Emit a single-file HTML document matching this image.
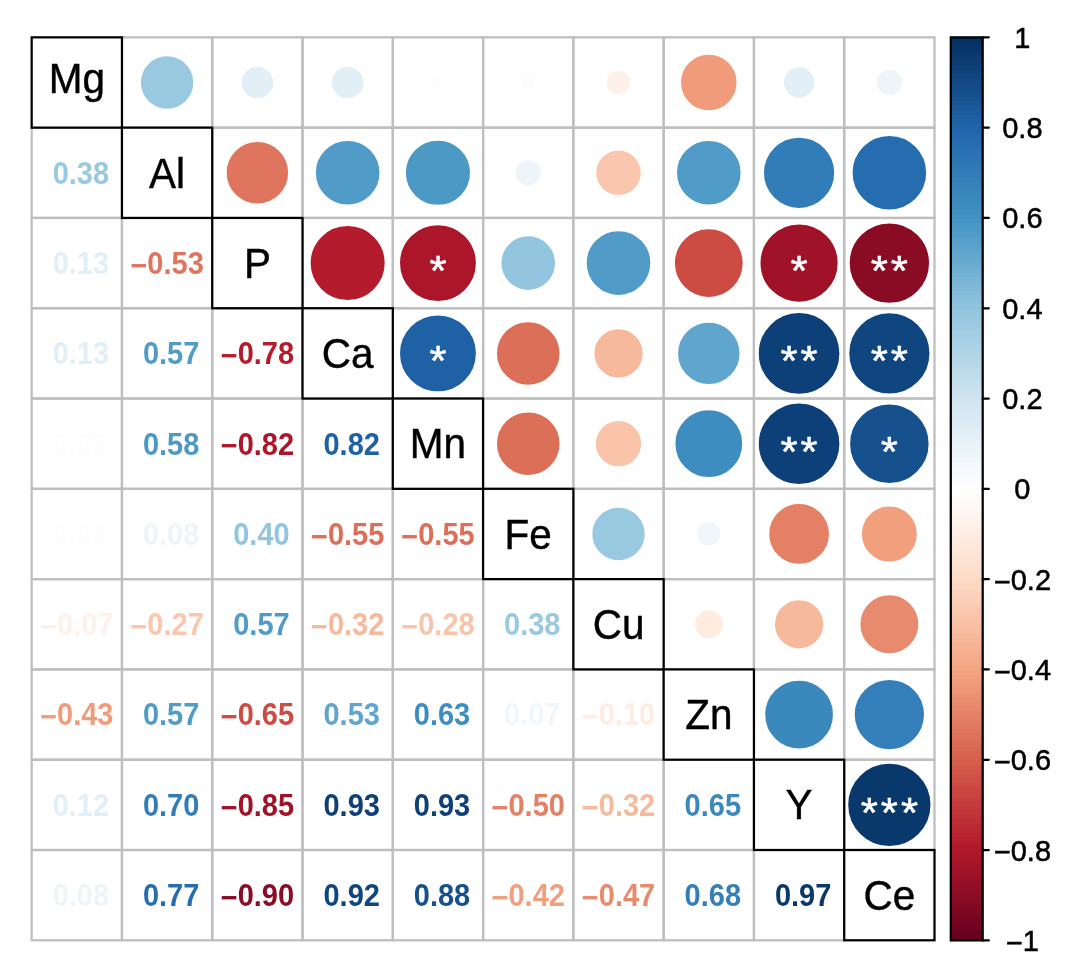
<!DOCTYPE html>
<html lang="en"><head><meta charset="utf-8"><title>Correlation plot</title>
<style>html,body{margin:0;padding:0;background:#fff}svg{display:block}</style></head>
<body>
<svg width="1065" height="962" viewBox="0 0 1065 962">
<rect width="1065" height="962" fill="#fff"/>
<g fill="none" stroke="#BEBEBE" stroke-width="2.25">
<rect x="121.95" y="37.35" width="90.28" height="90.29"/>
<rect x="212.24" y="37.35" width="90.28" height="90.29"/>
<rect x="302.52" y="37.35" width="90.28" height="90.29"/>
<rect x="392.80" y="37.35" width="90.28" height="90.29"/>
<rect x="483.09" y="37.35" width="90.28" height="90.29"/>
<rect x="573.37" y="37.35" width="90.28" height="90.29"/>
<rect x="663.65" y="37.35" width="90.28" height="90.29"/>
<rect x="753.93" y="37.35" width="90.28" height="90.29"/>
<rect x="844.22" y="37.35" width="90.28" height="90.29"/>
<rect x="31.67" y="127.64" width="90.28" height="90.29"/>
<rect x="212.24" y="127.64" width="90.28" height="90.29"/>
<rect x="302.52" y="127.64" width="90.28" height="90.29"/>
<rect x="392.80" y="127.64" width="90.28" height="90.29"/>
<rect x="483.09" y="127.64" width="90.28" height="90.29"/>
<rect x="573.37" y="127.64" width="90.28" height="90.29"/>
<rect x="663.65" y="127.64" width="90.28" height="90.29"/>
<rect x="753.93" y="127.64" width="90.28" height="90.29"/>
<rect x="844.22" y="127.64" width="90.28" height="90.29"/>
<rect x="31.67" y="217.94" width="90.28" height="90.29"/>
<rect x="121.95" y="217.94" width="90.28" height="90.29"/>
<rect x="302.52" y="217.94" width="90.28" height="90.29"/>
<rect x="392.80" y="217.94" width="90.28" height="90.29"/>
<rect x="483.09" y="217.94" width="90.28" height="90.29"/>
<rect x="573.37" y="217.94" width="90.28" height="90.29"/>
<rect x="663.65" y="217.94" width="90.28" height="90.29"/>
<rect x="753.93" y="217.94" width="90.28" height="90.29"/>
<rect x="844.22" y="217.94" width="90.28" height="90.29"/>
<rect x="31.67" y="308.24" width="90.28" height="90.29"/>
<rect x="121.95" y="308.24" width="90.28" height="90.29"/>
<rect x="212.24" y="308.24" width="90.28" height="90.29"/>
<rect x="392.80" y="308.24" width="90.28" height="90.29"/>
<rect x="483.09" y="308.24" width="90.28" height="90.29"/>
<rect x="573.37" y="308.24" width="90.28" height="90.29"/>
<rect x="663.65" y="308.24" width="90.28" height="90.29"/>
<rect x="753.93" y="308.24" width="90.28" height="90.29"/>
<rect x="844.22" y="308.24" width="90.28" height="90.29"/>
<rect x="31.67" y="398.53" width="90.28" height="90.29"/>
<rect x="121.95" y="398.53" width="90.28" height="90.29"/>
<rect x="212.24" y="398.53" width="90.28" height="90.29"/>
<rect x="302.52" y="398.53" width="90.28" height="90.29"/>
<rect x="483.09" y="398.53" width="90.28" height="90.29"/>
<rect x="573.37" y="398.53" width="90.28" height="90.29"/>
<rect x="663.65" y="398.53" width="90.28" height="90.29"/>
<rect x="753.93" y="398.53" width="90.28" height="90.29"/>
<rect x="844.22" y="398.53" width="90.28" height="90.29"/>
<rect x="31.67" y="488.82" width="90.28" height="90.29"/>
<rect x="121.95" y="488.82" width="90.28" height="90.29"/>
<rect x="212.24" y="488.82" width="90.28" height="90.29"/>
<rect x="302.52" y="488.82" width="90.28" height="90.29"/>
<rect x="392.80" y="488.82" width="90.28" height="90.29"/>
<rect x="573.37" y="488.82" width="90.28" height="90.29"/>
<rect x="663.65" y="488.82" width="90.28" height="90.29"/>
<rect x="753.93" y="488.82" width="90.28" height="90.29"/>
<rect x="844.22" y="488.82" width="90.28" height="90.29"/>
<rect x="31.67" y="579.12" width="90.28" height="90.29"/>
<rect x="121.95" y="579.12" width="90.28" height="90.29"/>
<rect x="212.24" y="579.12" width="90.28" height="90.29"/>
<rect x="302.52" y="579.12" width="90.28" height="90.29"/>
<rect x="392.80" y="579.12" width="90.28" height="90.29"/>
<rect x="483.09" y="579.12" width="90.28" height="90.29"/>
<rect x="663.65" y="579.12" width="90.28" height="90.29"/>
<rect x="753.93" y="579.12" width="90.28" height="90.29"/>
<rect x="844.22" y="579.12" width="90.28" height="90.29"/>
<rect x="31.67" y="669.41" width="90.28" height="90.29"/>
<rect x="121.95" y="669.41" width="90.28" height="90.29"/>
<rect x="212.24" y="669.41" width="90.28" height="90.29"/>
<rect x="302.52" y="669.41" width="90.28" height="90.29"/>
<rect x="392.80" y="669.41" width="90.28" height="90.29"/>
<rect x="483.09" y="669.41" width="90.28" height="90.29"/>
<rect x="573.37" y="669.41" width="90.28" height="90.29"/>
<rect x="753.93" y="669.41" width="90.28" height="90.29"/>
<rect x="844.22" y="669.41" width="90.28" height="90.29"/>
<rect x="31.67" y="759.71" width="90.28" height="90.29"/>
<rect x="121.95" y="759.71" width="90.28" height="90.29"/>
<rect x="212.24" y="759.71" width="90.28" height="90.29"/>
<rect x="302.52" y="759.71" width="90.28" height="90.29"/>
<rect x="392.80" y="759.71" width="90.28" height="90.29"/>
<rect x="483.09" y="759.71" width="90.28" height="90.29"/>
<rect x="573.37" y="759.71" width="90.28" height="90.29"/>
<rect x="663.65" y="759.71" width="90.28" height="90.29"/>
<rect x="844.22" y="759.71" width="90.28" height="90.29"/>
<rect x="31.67" y="850.00" width="90.28" height="90.29"/>
<rect x="121.95" y="850.00" width="90.28" height="90.29"/>
<rect x="212.24" y="850.00" width="90.28" height="90.29"/>
<rect x="302.52" y="850.00" width="90.28" height="90.29"/>
<rect x="392.80" y="850.00" width="90.28" height="90.29"/>
<rect x="483.09" y="850.00" width="90.28" height="90.29"/>
<rect x="573.37" y="850.00" width="90.28" height="90.29"/>
<rect x="663.65" y="850.00" width="90.28" height="90.29"/>
<rect x="753.93" y="850.00" width="90.28" height="90.29"/>
</g>
<circle cx="167.09" cy="82.50" r="25.04" fill="#99C9E0" stroke="#99C9E0" stroke-width="2.25"/>
<circle cx="257.38" cy="82.50" r="14.65" fill="#E2EFF6" stroke="#E2EFF6" stroke-width="2.25"/>
<circle cx="347.66" cy="82.50" r="14.65" fill="#E2EFF6" stroke="#E2EFF6" stroke-width="2.25"/>
<circle cx="437.94" cy="82.50" r="5.75" fill="#FCFDFE" stroke="#FCFDFE" stroke-width="2.25"/>
<circle cx="528.23" cy="82.50" r="5.75" fill="#FCFDFE" stroke="#FCFDFE" stroke-width="2.25"/>
<circle cx="618.51" cy="82.50" r="10.75" fill="#FEF1EA" stroke="#FEF1EA" stroke-width="2.25"/>
<circle cx="708.79" cy="82.50" r="26.64" fill="#F09C7B" stroke="#F09C7B" stroke-width="2.25"/>
<circle cx="799.08" cy="82.50" r="14.07" fill="#E2EFF6" stroke="#E2EFF6" stroke-width="2.25"/>
<circle cx="889.36" cy="82.50" r="11.49" fill="#EEF5F9" stroke="#EEF5F9" stroke-width="2.25"/>
<circle cx="257.38" cy="172.79" r="29.58" fill="#DF755E" stroke="#DF755E" stroke-width="2.25"/>
<circle cx="347.66" cy="172.79" r="30.67" fill="#509BC7" stroke="#509BC7" stroke-width="2.25"/>
<circle cx="437.94" cy="172.79" r="30.94" fill="#4C99C6" stroke="#4C99C6" stroke-width="2.25"/>
<circle cx="528.23" cy="172.79" r="11.49" fill="#EEF5F9" stroke="#EEF5F9" stroke-width="2.25"/>
<circle cx="618.51" cy="172.79" r="21.11" fill="#FAC6AD" stroke="#FAC6AD" stroke-width="2.25"/>
<circle cx="708.79" cy="172.79" r="30.67" fill="#509BC7" stroke="#509BC7" stroke-width="2.25"/>
<circle cx="799.08" cy="172.79" r="33.99" fill="#327DB8" stroke="#327DB8" stroke-width="2.25"/>
<circle cx="889.36" cy="172.79" r="35.65" fill="#266DB0" stroke="#266DB0" stroke-width="2.25"/>
<circle cx="347.66" cy="263.09" r="35.88" fill="#B41C2D" stroke="#B41C2D" stroke-width="2.25"/>
<circle cx="437.94" cy="263.09" r="36.79" fill="#AB162A" stroke="#AB162A" stroke-width="2.25"/>
<circle cx="528.23" cy="263.09" r="25.69" fill="#93C5DE" stroke="#93C5DE" stroke-width="2.25"/>
<circle cx="618.51" cy="263.09" r="30.67" fill="#509BC7" stroke="#509BC7" stroke-width="2.25"/>
<circle cx="708.79" cy="263.09" r="32.75" fill="#CC4B43" stroke="#CC4B43" stroke-width="2.25"/>
<circle cx="799.08" cy="263.09" r="37.46" fill="#A01228" stroke="#A01228" stroke-width="2.25"/>
<circle cx="889.36" cy="263.09" r="38.54" fill="#890B24" stroke="#890B24" stroke-width="2.25"/>
<circle cx="437.94" cy="353.38" r="36.79" fill="#1E61A5" stroke="#1E61A5" stroke-width="2.25"/>
<circle cx="528.23" cy="353.38" r="30.13" fill="#DC6F58" stroke="#DC6F58" stroke-width="2.25"/>
<circle cx="618.51" cy="353.38" r="22.98" fill="#F7B99B" stroke="#F7B99B" stroke-width="2.25"/>
<circle cx="708.79" cy="353.38" r="29.58" fill="#60A5CD" stroke="#60A5CD" stroke-width="2.25"/>
<circle cx="799.08" cy="353.38" r="39.18" fill="#0D4078" stroke="#0D4078" stroke-width="2.25"/>
<circle cx="889.36" cy="353.38" r="38.97" fill="#10467F" stroke="#10467F" stroke-width="2.25"/>
<circle cx="528.23" cy="443.68" r="30.13" fill="#DC6F58" stroke="#DC6F58" stroke-width="2.25"/>
<circle cx="618.51" cy="443.68" r="21.50" fill="#F9C4A9" stroke="#F9C4A9" stroke-width="2.25"/>
<circle cx="708.79" cy="443.68" r="32.25" fill="#3E8DC0" stroke="#3E8DC0" stroke-width="2.25"/>
<circle cx="799.08" cy="443.68" r="39.18" fill="#0D4078" stroke="#0D4078" stroke-width="2.25"/>
<circle cx="889.36" cy="443.68" r="38.11" fill="#16518E" stroke="#16518E" stroke-width="2.25"/>
<circle cx="618.51" cy="533.97" r="25.04" fill="#99C9E0" stroke="#99C9E0" stroke-width="2.25"/>
<circle cx="708.79" cy="533.97" r="10.75" fill="#F0F7FA" stroke="#F0F7FA" stroke-width="2.25"/>
<circle cx="799.08" cy="533.97" r="28.73" fill="#E48066" stroke="#E48066" stroke-width="2.25"/>
<circle cx="889.36" cy="533.97" r="26.33" fill="#F19F7D" stroke="#F19F7D" stroke-width="2.25"/>
<circle cx="708.79" cy="624.27" r="12.85" fill="#FEECE1" stroke="#FEECE1" stroke-width="2.25"/>
<circle cx="799.08" cy="624.27" r="22.98" fill="#F7B99B" stroke="#F7B99B" stroke-width="2.25"/>
<circle cx="889.36" cy="624.27" r="27.85" fill="#E88A6D" stroke="#E88A6D" stroke-width="2.25"/>
<circle cx="799.08" cy="714.56" r="32.75" fill="#3B88BD" stroke="#3B88BD" stroke-width="2.25"/>
<circle cx="889.36" cy="714.56" r="33.50" fill="#347FB9" stroke="#347FB9" stroke-width="2.25"/>
<circle cx="889.36" cy="804.86" r="40.01" fill="#09386C" stroke="#09386C" stroke-width="2.25"/>
<g font-family="'Liberation Sans', Arial, Helvetica, sans-serif" font-size="44.0" fill="#fff" stroke="#fff" stroke-width="0.55" text-anchor="middle">
<text transform="translate(437.94 285.09) scale(1 0.95)">*</text>
<text transform="translate(799.08 285.09) scale(1 0.95)">*</text>
<text transform="translate(879.31 285.09) scale(1 0.95)">*</text>
<text transform="translate(899.41 285.09) scale(1 0.95)">*</text>
<text transform="translate(437.94 375.38) scale(1 0.95)">*</text>
<text transform="translate(789.03 375.38) scale(1 0.95)">*</text>
<text transform="translate(809.13 375.38) scale(1 0.95)">*</text>
<text transform="translate(879.31 375.38) scale(1 0.95)">*</text>
<text transform="translate(899.41 375.38) scale(1 0.95)">*</text>
<text transform="translate(789.03 465.68) scale(1 0.95)">*</text>
<text transform="translate(809.13 465.68) scale(1 0.95)">*</text>
<text transform="translate(889.36 465.68) scale(1 0.95)">*</text>
<text transform="translate(869.26 826.86) scale(1 0.95)">*</text>
<text transform="translate(889.36 826.86) scale(1 0.95)">*</text>
<text transform="translate(909.46 826.86) scale(1 0.95)">*</text>
</g>
<g font-family="'Liberation Sans', Arial, Helvetica, sans-serif" font-size="29.0" font-weight="bold" text-anchor="middle">
<text transform="translate(80.84 183.69) scale(1 1.05)" fill="#99C9E0">0.38</text>
<text transform="translate(80.84 273.99) scale(1 1.05)" fill="#E2EFF6">0.13</text>
<text transform="translate(167.09 273.99) scale(1 1.05)" fill="#DF755E"><tspan dy="1.8">−</tspan><tspan dy="-1.8">0.53</tspan></text>
<text transform="translate(80.84 364.28) scale(1 1.05)" fill="#E2EFF6">0.13</text>
<text transform="translate(171.13 364.28) scale(1 1.05)" fill="#509BC7">0.57</text>
<text transform="translate(257.38 364.28) scale(1 1.05)" fill="#B41C2D"><tspan dy="1.8">−</tspan><tspan dy="-1.8">0.78</tspan></text>
<text transform="translate(80.84 454.58) scale(1 1.05)" fill="#FCFDFE">0.02</text>
<text transform="translate(171.13 454.58) scale(1 1.05)" fill="#4C99C6">0.58</text>
<text transform="translate(257.38 454.58) scale(1 1.05)" fill="#AB162A"><tspan dy="1.8">−</tspan><tspan dy="-1.8">0.82</tspan></text>
<text transform="translate(351.69 454.58) scale(1 1.05)" fill="#1E61A5">0.82</text>
<text transform="translate(80.84 544.87) scale(1 1.05)" fill="#FCFDFE">0.02</text>
<text transform="translate(171.13 544.87) scale(1 1.05)" fill="#EEF5F9">0.08</text>
<text transform="translate(261.41 544.87) scale(1 1.05)" fill="#93C5DE">0.40</text>
<text transform="translate(347.66 544.87) scale(1 1.05)" fill="#DC6F58"><tspan dy="1.8">−</tspan><tspan dy="-1.8">0.55</tspan></text>
<text transform="translate(437.94 544.87) scale(1 1.05)" fill="#DC6F58"><tspan dy="1.8">−</tspan><tspan dy="-1.8">0.55</tspan></text>
<text transform="translate(76.81 635.17) scale(1 1.05)" fill="#FEF1EA"><tspan dy="1.8">−</tspan><tspan dy="-1.8">0.07</tspan></text>
<text transform="translate(167.09 635.17) scale(1 1.05)" fill="#FAC6AD"><tspan dy="1.8">−</tspan><tspan dy="-1.8">0.27</tspan></text>
<text transform="translate(261.41 635.17) scale(1 1.05)" fill="#509BC7">0.57</text>
<text transform="translate(347.66 635.17) scale(1 1.05)" fill="#F7B99B"><tspan dy="1.8">−</tspan><tspan dy="-1.8">0.32</tspan></text>
<text transform="translate(437.94 635.17) scale(1 1.05)" fill="#F9C4A9"><tspan dy="1.8">−</tspan><tspan dy="-1.8">0.28</tspan></text>
<text transform="translate(532.26 635.17) scale(1 1.05)" fill="#99C9E0">0.38</text>
<text transform="translate(76.81 725.46) scale(1 1.05)" fill="#F09C7B"><tspan dy="1.8">−</tspan><tspan dy="-1.8">0.43</tspan></text>
<text transform="translate(171.13 725.46) scale(1 1.05)" fill="#509BC7">0.57</text>
<text transform="translate(257.38 725.46) scale(1 1.05)" fill="#CC4B43"><tspan dy="1.8">−</tspan><tspan dy="-1.8">0.65</tspan></text>
<text transform="translate(351.69 725.46) scale(1 1.05)" fill="#60A5CD">0.53</text>
<text transform="translate(441.97 725.46) scale(1 1.05)" fill="#3E8DC0">0.63</text>
<text transform="translate(532.26 725.46) scale(1 1.05)" fill="#F0F7FA">0.07</text>
<text transform="translate(618.51 725.46) scale(1 1.05)" fill="#FEECE1"><tspan dy="1.8">−</tspan><tspan dy="-1.8">0.10</tspan></text>
<text transform="translate(80.84 815.76) scale(1 1.05)" fill="#E2EFF6">0.12</text>
<text transform="translate(171.13 815.76) scale(1 1.05)" fill="#327DB8">0.70</text>
<text transform="translate(257.38 815.76) scale(1 1.05)" fill="#A01228"><tspan dy="1.8">−</tspan><tspan dy="-1.8">0.85</tspan></text>
<text transform="translate(351.69 815.76) scale(1 1.05)" fill="#0D4078">0.93</text>
<text transform="translate(441.97 815.76) scale(1 1.05)" fill="#0D4078">0.93</text>
<text transform="translate(528.23 815.76) scale(1 1.05)" fill="#E48066"><tspan dy="1.8">−</tspan><tspan dy="-1.8">0.50</tspan></text>
<text transform="translate(618.51 815.76) scale(1 1.05)" fill="#F7B99B"><tspan dy="1.8">−</tspan><tspan dy="-1.8">0.32</tspan></text>
<text transform="translate(712.82 815.76) scale(1 1.05)" fill="#3B88BD">0.65</text>
<text transform="translate(80.84 906.05) scale(1 1.05)" fill="#EEF5F9">0.08</text>
<text transform="translate(171.13 906.05) scale(1 1.05)" fill="#266DB0">0.77</text>
<text transform="translate(257.38 906.05) scale(1 1.05)" fill="#890B24"><tspan dy="1.8">−</tspan><tspan dy="-1.8">0.90</tspan></text>
<text transform="translate(351.69 906.05) scale(1 1.05)" fill="#10467F">0.92</text>
<text transform="translate(441.97 906.05) scale(1 1.05)" fill="#16518E">0.88</text>
<text transform="translate(528.23 906.05) scale(1 1.05)" fill="#F19F7D"><tspan dy="1.8">−</tspan><tspan dy="-1.8">0.42</tspan></text>
<text transform="translate(618.51 906.05) scale(1 1.05)" fill="#E88A6D"><tspan dy="1.8">−</tspan><tspan dy="-1.8">0.47</tspan></text>
<text transform="translate(712.82 906.05) scale(1 1.05)" fill="#347FB9">0.68</text>
<text transform="translate(803.11 906.05) scale(1 1.05)" fill="#09386C">0.97</text>
</g>
<g fill="#fff" stroke="#000" stroke-width="2.25">
<rect x="31.67" y="37.35" width="90.28" height="90.29"/>
<rect x="121.95" y="127.64" width="90.28" height="90.29"/>
<rect x="212.24" y="217.94" width="90.28" height="90.29"/>
<rect x="302.52" y="308.24" width="90.28" height="90.29"/>
<rect x="392.80" y="398.53" width="90.28" height="90.29"/>
<rect x="483.09" y="488.82" width="90.28" height="90.29"/>
<rect x="573.37" y="579.12" width="90.28" height="90.29"/>
<rect x="663.65" y="669.41" width="90.28" height="90.29"/>
<rect x="753.93" y="759.71" width="90.28" height="90.29"/>
<rect x="844.22" y="850.00" width="90.28" height="90.29"/>
</g>
<g font-family="'Liberation Sans', Arial, Helvetica, sans-serif" font-size="40.5" fill="#000" stroke="#000" stroke-width="0.4" text-anchor="middle">
<text transform="translate(76.81 92.76) scale(1 1.035)">Mg</text>
<text transform="translate(167.09 187.89) scale(1 1.035)">Al</text>
<text transform="translate(257.38 277.69) scale(1 1.035)">P</text>
<text transform="translate(347.66 367.98) scale(1 1.035)">Ca</text>
<text transform="translate(437.94 458.28) scale(1 1.035)">Mn</text>
<text transform="translate(528.23 548.57) scale(1 1.035)">Fe</text>
<text transform="translate(618.51 638.87) scale(1 1.035)">Cu</text>
<text transform="translate(708.79 729.16) scale(1 1.035)">Zn</text>
<text transform="translate(799.08 819.46) scale(1 1.035)">Y</text>
<text transform="translate(889.36 909.75) scale(1 1.035)">Ce</text>
</g>
<rect x="950.8" y="935.88" width="31.90" height="5.12" fill="#67001F" shape-rendering="crispEdges"/>
<rect x="950.8" y="931.37" width="31.90" height="5.12" fill="#6B0120" shape-rendering="crispEdges"/>
<rect x="950.8" y="926.85" width="31.90" height="5.12" fill="#6F0220" shape-rendering="crispEdges"/>
<rect x="950.8" y="922.34" width="31.90" height="5.12" fill="#720421" shape-rendering="crispEdges"/>
<rect x="950.8" y="917.82" width="31.90" height="5.12" fill="#760521" shape-rendering="crispEdges"/>
<rect x="950.8" y="913.31" width="31.90" height="5.12" fill="#7A0622" shape-rendering="crispEdges"/>
<rect x="950.8" y="908.79" width="31.90" height="5.12" fill="#7E0723" shape-rendering="crispEdges"/>
<rect x="950.8" y="904.28" width="31.90" height="5.12" fill="#810823" shape-rendering="crispEdges"/>
<rect x="950.8" y="899.76" width="31.90" height="5.12" fill="#850A24" shape-rendering="crispEdges"/>
<rect x="950.8" y="895.25" width="31.90" height="5.12" fill="#890B24" shape-rendering="crispEdges"/>
<rect x="950.8" y="890.73" width="31.90" height="5.12" fill="#8D0C25" shape-rendering="crispEdges"/>
<rect x="950.8" y="886.22" width="31.90" height="5.12" fill="#900D26" shape-rendering="crispEdges"/>
<rect x="950.8" y="881.70" width="31.90" height="5.12" fill="#940E26" shape-rendering="crispEdges"/>
<rect x="950.8" y="877.19" width="31.90" height="5.12" fill="#981027" shape-rendering="crispEdges"/>
<rect x="950.8" y="872.67" width="31.90" height="5.12" fill="#9C1127" shape-rendering="crispEdges"/>
<rect x="950.8" y="868.16" width="31.90" height="5.12" fill="#A01228" shape-rendering="crispEdges"/>
<rect x="950.8" y="863.64" width="31.90" height="5.12" fill="#A31329" shape-rendering="crispEdges"/>
<rect x="950.8" y="859.13" width="31.90" height="5.12" fill="#A71529" shape-rendering="crispEdges"/>
<rect x="950.8" y="854.61" width="31.90" height="5.12" fill="#AB162A" shape-rendering="crispEdges"/>
<rect x="950.8" y="850.10" width="31.90" height="5.12" fill="#AF172A" shape-rendering="crispEdges"/>
<rect x="950.8" y="845.58" width="31.90" height="5.12" fill="#B2182B" shape-rendering="crispEdges"/>
<rect x="950.8" y="841.06" width="31.90" height="5.12" fill="#B41C2D" shape-rendering="crispEdges"/>
<rect x="950.8" y="836.55" width="31.90" height="5.12" fill="#B6202F" shape-rendering="crispEdges"/>
<rect x="950.8" y="832.03" width="31.90" height="5.12" fill="#B82330" shape-rendering="crispEdges"/>
<rect x="950.8" y="827.52" width="31.90" height="5.12" fill="#B92732" shape-rendering="crispEdges"/>
<rect x="950.8" y="823.00" width="31.90" height="5.12" fill="#BB2A34" shape-rendering="crispEdges"/>
<rect x="950.8" y="818.49" width="31.90" height="5.12" fill="#BD2E35" shape-rendering="crispEdges"/>
<rect x="950.8" y="813.97" width="31.90" height="5.12" fill="#BF3237" shape-rendering="crispEdges"/>
<rect x="950.8" y="809.46" width="31.90" height="5.12" fill="#C13539" shape-rendering="crispEdges"/>
<rect x="950.8" y="804.94" width="31.90" height="5.12" fill="#C2393B" shape-rendering="crispEdges"/>
<rect x="950.8" y="800.43" width="31.90" height="5.12" fill="#C43D3C" shape-rendering="crispEdges"/>
<rect x="950.8" y="795.91" width="31.90" height="5.12" fill="#C6403E" shape-rendering="crispEdges"/>
<rect x="950.8" y="791.40" width="31.90" height="5.12" fill="#C84440" shape-rendering="crispEdges"/>
<rect x="950.8" y="786.88" width="31.90" height="5.12" fill="#CA4741" shape-rendering="crispEdges"/>
<rect x="950.8" y="782.37" width="31.90" height="5.12" fill="#CC4B43" shape-rendering="crispEdges"/>
<rect x="950.8" y="777.85" width="31.90" height="5.12" fill="#CD4F45" shape-rendering="crispEdges"/>
<rect x="950.8" y="773.34" width="31.90" height="5.12" fill="#CF5247" shape-rendering="crispEdges"/>
<rect x="950.8" y="768.82" width="31.90" height="5.12" fill="#D15648" shape-rendering="crispEdges"/>
<rect x="950.8" y="764.31" width="31.90" height="5.12" fill="#D3594A" shape-rendering="crispEdges"/>
<rect x="950.8" y="759.79" width="31.90" height="5.12" fill="#D55D4C" shape-rendering="crispEdges"/>
<rect x="950.8" y="755.27" width="31.90" height="5.12" fill="#D6614E" shape-rendering="crispEdges"/>
<rect x="950.8" y="750.76" width="31.90" height="5.12" fill="#D86450" shape-rendering="crispEdges"/>
<rect x="950.8" y="746.24" width="31.90" height="5.12" fill="#D96853" shape-rendering="crispEdges"/>
<rect x="950.8" y="741.73" width="31.90" height="5.12" fill="#DB6B56" shape-rendering="crispEdges"/>
<rect x="950.8" y="737.21" width="31.90" height="5.12" fill="#DC6F58" shape-rendering="crispEdges"/>
<rect x="950.8" y="732.70" width="31.90" height="5.12" fill="#DE725B" shape-rendering="crispEdges"/>
<rect x="950.8" y="728.18" width="31.90" height="5.12" fill="#DF755E" shape-rendering="crispEdges"/>
<rect x="950.8" y="723.67" width="31.90" height="5.12" fill="#E17960" shape-rendering="crispEdges"/>
<rect x="950.8" y="719.15" width="31.90" height="5.12" fill="#E27C63" shape-rendering="crispEdges"/>
<rect x="950.8" y="714.64" width="31.90" height="5.12" fill="#E48066" shape-rendering="crispEdges"/>
<rect x="950.8" y="710.12" width="31.90" height="5.12" fill="#E58368" shape-rendering="crispEdges"/>
<rect x="950.8" y="705.61" width="31.90" height="5.12" fill="#E7876B" shape-rendering="crispEdges"/>
<rect x="950.8" y="701.09" width="31.90" height="5.12" fill="#E88A6D" shape-rendering="crispEdges"/>
<rect x="950.8" y="696.58" width="31.90" height="5.12" fill="#EA8E70" shape-rendering="crispEdges"/>
<rect x="950.8" y="692.06" width="31.90" height="5.12" fill="#EB9173" shape-rendering="crispEdges"/>
<rect x="950.8" y="687.55" width="31.90" height="5.12" fill="#ED9575" shape-rendering="crispEdges"/>
<rect x="950.8" y="683.03" width="31.90" height="5.12" fill="#EE9878" shape-rendering="crispEdges"/>
<rect x="950.8" y="678.52" width="31.90" height="5.12" fill="#F09C7B" shape-rendering="crispEdges"/>
<rect x="950.8" y="674.00" width="31.90" height="5.12" fill="#F19F7D" shape-rendering="crispEdges"/>
<rect x="950.8" y="669.48" width="31.90" height="5.12" fill="#F3A380" shape-rendering="crispEdges"/>
<rect x="950.8" y="664.97" width="31.90" height="5.12" fill="#F4A683" shape-rendering="crispEdges"/>
<rect x="950.8" y="660.45" width="31.90" height="5.12" fill="#F5A987" shape-rendering="crispEdges"/>
<rect x="950.8" y="655.94" width="31.90" height="5.12" fill="#F5AB8A" shape-rendering="crispEdges"/>
<rect x="950.8" y="651.42" width="31.90" height="5.12" fill="#F5AE8D" shape-rendering="crispEdges"/>
<rect x="950.8" y="646.91" width="31.90" height="5.12" fill="#F6B191" shape-rendering="crispEdges"/>
<rect x="950.8" y="642.39" width="31.90" height="5.12" fill="#F6B394" shape-rendering="crispEdges"/>
<rect x="950.8" y="637.88" width="31.90" height="5.12" fill="#F7B698" shape-rendering="crispEdges"/>
<rect x="950.8" y="633.36" width="31.90" height="5.12" fill="#F7B99B" shape-rendering="crispEdges"/>
<rect x="950.8" y="628.85" width="31.90" height="5.12" fill="#F8BC9F" shape-rendering="crispEdges"/>
<rect x="950.8" y="624.33" width="31.90" height="5.12" fill="#F8BEA2" shape-rendering="crispEdges"/>
<rect x="950.8" y="619.82" width="31.90" height="5.12" fill="#F9C1A6" shape-rendering="crispEdges"/>
<rect x="950.8" y="615.30" width="31.90" height="5.12" fill="#F9C4A9" shape-rendering="crispEdges"/>
<rect x="950.8" y="610.79" width="31.90" height="5.12" fill="#FAC6AD" shape-rendering="crispEdges"/>
<rect x="950.8" y="606.27" width="31.90" height="5.12" fill="#FAC9B0" shape-rendering="crispEdges"/>
<rect x="950.8" y="601.76" width="31.90" height="5.12" fill="#FACCB4" shape-rendering="crispEdges"/>
<rect x="950.8" y="597.24" width="31.90" height="5.12" fill="#FBCFB7" shape-rendering="crispEdges"/>
<rect x="950.8" y="592.73" width="31.90" height="5.12" fill="#FBD1BB" shape-rendering="crispEdges"/>
<rect x="950.8" y="588.21" width="31.90" height="5.12" fill="#FCD4BE" shape-rendering="crispEdges"/>
<rect x="950.8" y="583.70" width="31.90" height="5.12" fill="#FCD7C1" shape-rendering="crispEdges"/>
<rect x="950.8" y="579.18" width="31.90" height="5.12" fill="#FDD9C5" shape-rendering="crispEdges"/>
<rect x="950.8" y="574.66" width="31.90" height="5.12" fill="#FDDCC8" shape-rendering="crispEdges"/>
<rect x="950.8" y="570.15" width="31.90" height="5.12" fill="#FDDECB" shape-rendering="crispEdges"/>
<rect x="950.8" y="565.63" width="31.90" height="5.12" fill="#FDDFCE" shape-rendering="crispEdges"/>
<rect x="950.8" y="561.12" width="31.90" height="5.12" fill="#FDE1D1" shape-rendering="crispEdges"/>
<rect x="950.8" y="556.60" width="31.90" height="5.12" fill="#FDE3D3" shape-rendering="crispEdges"/>
<rect x="950.8" y="552.09" width="31.90" height="5.12" fill="#FEE5D6" shape-rendering="crispEdges"/>
<rect x="950.8" y="547.57" width="31.90" height="5.12" fill="#FEE7D9" shape-rendering="crispEdges"/>
<rect x="950.8" y="543.06" width="31.90" height="5.12" fill="#FEE8DC" shape-rendering="crispEdges"/>
<rect x="950.8" y="538.54" width="31.90" height="5.12" fill="#FEEADF" shape-rendering="crispEdges"/>
<rect x="950.8" y="534.03" width="31.90" height="5.12" fill="#FEECE1" shape-rendering="crispEdges"/>
<rect x="950.8" y="529.51" width="31.90" height="5.12" fill="#FEEEE4" shape-rendering="crispEdges"/>
<rect x="950.8" y="525.00" width="31.90" height="5.12" fill="#FEF0E7" shape-rendering="crispEdges"/>
<rect x="950.8" y="520.48" width="31.90" height="5.12" fill="#FEF1EA" shape-rendering="crispEdges"/>
<rect x="950.8" y="515.97" width="31.90" height="5.12" fill="#FEF3ED" shape-rendering="crispEdges"/>
<rect x="950.8" y="511.45" width="31.90" height="5.12" fill="#FEF5F0" shape-rendering="crispEdges"/>
<rect x="950.8" y="506.94" width="31.90" height="5.12" fill="#FFF7F2" shape-rendering="crispEdges"/>
<rect x="950.8" y="502.42" width="31.90" height="5.12" fill="#FFF9F5" shape-rendering="crispEdges"/>
<rect x="950.8" y="497.91" width="31.90" height="5.12" fill="#FFFAF8" shape-rendering="crispEdges"/>
<rect x="950.8" y="493.39" width="31.90" height="5.12" fill="#FFFCFB" shape-rendering="crispEdges"/>
<rect x="950.8" y="488.88" width="31.90" height="5.12" fill="#FFFEFE" shape-rendering="crispEdges"/>
<rect x="950.8" y="484.36" width="31.90" height="5.12" fill="#FEFEFF" shape-rendering="crispEdges"/>
<rect x="950.8" y="479.84" width="31.90" height="5.12" fill="#FCFDFE" shape-rendering="crispEdges"/>
<rect x="950.8" y="475.33" width="31.90" height="5.12" fill="#F9FCFD" shape-rendering="crispEdges"/>
<rect x="950.8" y="470.81" width="31.90" height="5.12" fill="#F7FAFC" shape-rendering="crispEdges"/>
<rect x="950.8" y="466.30" width="31.90" height="5.12" fill="#F5F9FC" shape-rendering="crispEdges"/>
<rect x="950.8" y="461.78" width="31.90" height="5.12" fill="#F2F8FB" shape-rendering="crispEdges"/>
<rect x="950.8" y="457.27" width="31.90" height="5.12" fill="#F0F7FA" shape-rendering="crispEdges"/>
<rect x="950.8" y="452.75" width="31.90" height="5.12" fill="#EEF5F9" shape-rendering="crispEdges"/>
<rect x="950.8" y="448.24" width="31.90" height="5.12" fill="#EBF4F9" shape-rendering="crispEdges"/>
<rect x="950.8" y="443.72" width="31.90" height="5.12" fill="#E9F3F8" shape-rendering="crispEdges"/>
<rect x="950.8" y="439.21" width="31.90" height="5.12" fill="#E7F1F7" shape-rendering="crispEdges"/>
<rect x="950.8" y="434.69" width="31.90" height="5.12" fill="#E4F0F6" shape-rendering="crispEdges"/>
<rect x="950.8" y="430.18" width="31.90" height="5.12" fill="#E2EFF6" shape-rendering="crispEdges"/>
<rect x="950.8" y="425.66" width="31.90" height="5.12" fill="#E0EDF5" shape-rendering="crispEdges"/>
<rect x="950.8" y="421.15" width="31.90" height="5.12" fill="#DDECF4" shape-rendering="crispEdges"/>
<rect x="950.8" y="416.63" width="31.90" height="5.12" fill="#DBEBF3" shape-rendering="crispEdges"/>
<rect x="950.8" y="412.12" width="31.90" height="5.12" fill="#D9E9F3" shape-rendering="crispEdges"/>
<rect x="950.8" y="407.60" width="31.90" height="5.12" fill="#D7E8F2" shape-rendering="crispEdges"/>
<rect x="950.8" y="403.09" width="31.90" height="5.12" fill="#D4E7F1" shape-rendering="crispEdges"/>
<rect x="950.8" y="398.57" width="31.90" height="5.12" fill="#D2E6F0" shape-rendering="crispEdges"/>
<rect x="950.8" y="394.05" width="31.90" height="5.12" fill="#CFE4EF" shape-rendering="crispEdges"/>
<rect x="950.8" y="389.54" width="31.90" height="5.12" fill="#CCE2EF" shape-rendering="crispEdges"/>
<rect x="950.8" y="385.02" width="31.90" height="5.12" fill="#C9E1EE" shape-rendering="crispEdges"/>
<rect x="950.8" y="380.51" width="31.90" height="5.12" fill="#C6DFED" shape-rendering="crispEdges"/>
<rect x="950.8" y="375.99" width="31.90" height="5.12" fill="#C2DEEC" shape-rendering="crispEdges"/>
<rect x="950.8" y="371.48" width="31.90" height="5.12" fill="#BFDCEB" shape-rendering="crispEdges"/>
<rect x="950.8" y="366.96" width="31.90" height="5.12" fill="#BCDAEA" shape-rendering="crispEdges"/>
<rect x="950.8" y="362.45" width="31.90" height="5.12" fill="#B9D9E9" shape-rendering="crispEdges"/>
<rect x="950.8" y="357.93" width="31.90" height="5.12" fill="#B6D7E8" shape-rendering="crispEdges"/>
<rect x="950.8" y="353.42" width="31.90" height="5.12" fill="#B3D6E7" shape-rendering="crispEdges"/>
<rect x="950.8" y="348.90" width="31.90" height="5.12" fill="#AFD4E6" shape-rendering="crispEdges"/>
<rect x="950.8" y="344.39" width="31.90" height="5.12" fill="#ACD2E6" shape-rendering="crispEdges"/>
<rect x="950.8" y="339.87" width="31.90" height="5.12" fill="#A9D1E5" shape-rendering="crispEdges"/>
<rect x="950.8" y="335.36" width="31.90" height="5.12" fill="#A6CFE4" shape-rendering="crispEdges"/>
<rect x="950.8" y="330.84" width="31.90" height="5.12" fill="#A3CEE3" shape-rendering="crispEdges"/>
<rect x="950.8" y="326.33" width="31.90" height="5.12" fill="#A0CCE2" shape-rendering="crispEdges"/>
<rect x="950.8" y="321.81" width="31.90" height="5.12" fill="#9CCAE1" shape-rendering="crispEdges"/>
<rect x="950.8" y="317.30" width="31.90" height="5.12" fill="#99C9E0" shape-rendering="crispEdges"/>
<rect x="950.8" y="312.78" width="31.90" height="5.12" fill="#96C7DF" shape-rendering="crispEdges"/>
<rect x="950.8" y="308.26" width="31.90" height="5.12" fill="#93C5DE" shape-rendering="crispEdges"/>
<rect x="950.8" y="303.75" width="31.90" height="5.12" fill="#8FC3DD" shape-rendering="crispEdges"/>
<rect x="950.8" y="299.23" width="31.90" height="5.12" fill="#8BC1DC" shape-rendering="crispEdges"/>
<rect x="950.8" y="294.72" width="31.90" height="5.12" fill="#87BEDA" shape-rendering="crispEdges"/>
<rect x="950.8" y="290.20" width="31.90" height="5.12" fill="#83BCD9" shape-rendering="crispEdges"/>
<rect x="950.8" y="285.69" width="31.90" height="5.12" fill="#7FB9D8" shape-rendering="crispEdges"/>
<rect x="950.8" y="281.17" width="31.90" height="5.12" fill="#7BB7D6" shape-rendering="crispEdges"/>
<rect x="950.8" y="276.66" width="31.90" height="5.12" fill="#77B4D5" shape-rendering="crispEdges"/>
<rect x="950.8" y="272.14" width="31.90" height="5.12" fill="#73B2D4" shape-rendering="crispEdges"/>
<rect x="950.8" y="267.63" width="31.90" height="5.12" fill="#6FAFD2" shape-rendering="crispEdges"/>
<rect x="950.8" y="263.11" width="31.90" height="5.12" fill="#6BADD1" shape-rendering="crispEdges"/>
<rect x="950.8" y="258.60" width="31.90" height="5.12" fill="#68AACF" shape-rendering="crispEdges"/>
<rect x="950.8" y="254.08" width="31.90" height="5.12" fill="#64A8CE" shape-rendering="crispEdges"/>
<rect x="950.8" y="249.57" width="31.90" height="5.12" fill="#60A5CD" shape-rendering="crispEdges"/>
<rect x="950.8" y="245.05" width="31.90" height="5.12" fill="#5CA3CB" shape-rendering="crispEdges"/>
<rect x="950.8" y="240.54" width="31.90" height="5.12" fill="#58A0CA" shape-rendering="crispEdges"/>
<rect x="950.8" y="236.02" width="31.90" height="5.12" fill="#549EC9" shape-rendering="crispEdges"/>
<rect x="950.8" y="231.51" width="31.90" height="5.12" fill="#509BC7" shape-rendering="crispEdges"/>
<rect x="950.8" y="226.99" width="31.90" height="5.12" fill="#4C99C6" shape-rendering="crispEdges"/>
<rect x="950.8" y="222.48" width="31.90" height="5.12" fill="#4896C5" shape-rendering="crispEdges"/>
<rect x="950.8" y="217.96" width="31.90" height="5.12" fill="#4494C3" shape-rendering="crispEdges"/>
<rect x="950.8" y="213.44" width="31.90" height="5.12" fill="#4291C2" shape-rendering="crispEdges"/>
<rect x="950.8" y="208.93" width="31.90" height="5.12" fill="#408FC1" shape-rendering="crispEdges"/>
<rect x="950.8" y="204.41" width="31.90" height="5.12" fill="#3E8DC0" shape-rendering="crispEdges"/>
<rect x="950.8" y="199.90" width="31.90" height="5.12" fill="#3D8ABF" shape-rendering="crispEdges"/>
<rect x="950.8" y="195.38" width="31.90" height="5.12" fill="#3B88BD" shape-rendering="crispEdges"/>
<rect x="950.8" y="190.87" width="31.90" height="5.12" fill="#3986BC" shape-rendering="crispEdges"/>
<rect x="950.8" y="186.35" width="31.90" height="5.12" fill="#3784BB" shape-rendering="crispEdges"/>
<rect x="950.8" y="181.84" width="31.90" height="5.12" fill="#3681BA" shape-rendering="crispEdges"/>
<rect x="950.8" y="177.32" width="31.90" height="5.12" fill="#347FB9" shape-rendering="crispEdges"/>
<rect x="950.8" y="172.81" width="31.90" height="5.12" fill="#327DB8" shape-rendering="crispEdges"/>
<rect x="950.8" y="168.29" width="31.90" height="5.12" fill="#317BB7" shape-rendering="crispEdges"/>
<rect x="950.8" y="163.78" width="31.90" height="5.12" fill="#2F78B5" shape-rendering="crispEdges"/>
<rect x="950.8" y="159.26" width="31.90" height="5.12" fill="#2D76B4" shape-rendering="crispEdges"/>
<rect x="950.8" y="154.75" width="31.90" height="5.12" fill="#2B74B3" shape-rendering="crispEdges"/>
<rect x="950.8" y="150.23" width="31.90" height="5.12" fill="#2A72B2" shape-rendering="crispEdges"/>
<rect x="950.8" y="145.72" width="31.90" height="5.12" fill="#286FB1" shape-rendering="crispEdges"/>
<rect x="950.8" y="141.20" width="31.90" height="5.12" fill="#266DB0" shape-rendering="crispEdges"/>
<rect x="950.8" y="136.69" width="31.90" height="5.12" fill="#256BAE" shape-rendering="crispEdges"/>
<rect x="950.8" y="132.17" width="31.90" height="5.12" fill="#2368AD" shape-rendering="crispEdges"/>
<rect x="950.8" y="127.65" width="31.90" height="5.12" fill="#2166AC" shape-rendering="crispEdges"/>
<rect x="950.8" y="123.14" width="31.90" height="5.12" fill="#2064A9" shape-rendering="crispEdges"/>
<rect x="950.8" y="118.62" width="31.90" height="5.12" fill="#1E61A5" shape-rendering="crispEdges"/>
<rect x="950.8" y="114.11" width="31.90" height="5.12" fill="#1D5EA1" shape-rendering="crispEdges"/>
<rect x="950.8" y="109.59" width="31.90" height="5.12" fill="#1C5B9D" shape-rendering="crispEdges"/>
<rect x="950.8" y="105.08" width="31.90" height="5.12" fill="#1A599A" shape-rendering="crispEdges"/>
<rect x="950.8" y="100.56" width="31.90" height="5.12" fill="#195696" shape-rendering="crispEdges"/>
<rect x="950.8" y="96.05" width="31.90" height="5.12" fill="#175392" shape-rendering="crispEdges"/>
<rect x="950.8" y="91.53" width="31.90" height="5.12" fill="#16518E" shape-rendering="crispEdges"/>
<rect x="950.8" y="87.02" width="31.90" height="5.12" fill="#144E8A" shape-rendering="crispEdges"/>
<rect x="950.8" y="82.50" width="31.90" height="5.12" fill="#134B87" shape-rendering="crispEdges"/>
<rect x="950.8" y="77.99" width="31.90" height="5.12" fill="#124883" shape-rendering="crispEdges"/>
<rect x="950.8" y="73.47" width="31.90" height="5.12" fill="#10467F" shape-rendering="crispEdges"/>
<rect x="950.8" y="68.96" width="31.90" height="5.12" fill="#0F437B" shape-rendering="crispEdges"/>
<rect x="950.8" y="64.44" width="31.90" height="5.12" fill="#0D4078" shape-rendering="crispEdges"/>
<rect x="950.8" y="59.93" width="31.90" height="5.12" fill="#0C3E74" shape-rendering="crispEdges"/>
<rect x="950.8" y="55.41" width="31.90" height="5.12" fill="#0B3B70" shape-rendering="crispEdges"/>
<rect x="950.8" y="50.90" width="31.90" height="5.12" fill="#09386C" shape-rendering="crispEdges"/>
<rect x="950.8" y="46.38" width="31.90" height="5.12" fill="#083569" shape-rendering="crispEdges"/>
<rect x="950.8" y="41.87" width="31.90" height="5.12" fill="#063365" shape-rendering="crispEdges"/>
<rect x="950.8" y="37.35" width="31.90" height="5.12" fill="#053061" shape-rendering="crispEdges"/>
<rect x="950.8" y="37.35" width="31.90" height="903.05" fill="none" stroke="#000" stroke-width="2.25"/>
<g stroke="#000" stroke-width="2.25" stroke-linecap="round">
<line x1="982.7" y1="940.40" x2="988.8" y2="940.40"/>
<line x1="982.7" y1="850.10" x2="988.8" y2="850.10"/>
<line x1="982.7" y1="759.79" x2="988.8" y2="759.79"/>
<line x1="982.7" y1="669.49" x2="988.8" y2="669.49"/>
<line x1="982.7" y1="579.18" x2="988.8" y2="579.18"/>
<line x1="982.7" y1="488.88" x2="988.8" y2="488.88"/>
<line x1="982.7" y1="398.57" x2="988.8" y2="398.57"/>
<line x1="982.7" y1="308.26" x2="988.8" y2="308.26"/>
<line x1="982.7" y1="217.96" x2="988.8" y2="217.96"/>
<line x1="982.7" y1="127.65" x2="988.8" y2="127.65"/>
<line x1="982.7" y1="37.35" x2="988.8" y2="37.35"/>
</g>
<g font-family="'Liberation Sans', Arial, Helvetica, sans-serif" font-size="29.0" fill="#000" stroke="#000" stroke-width="0.5" text-anchor="middle">
<text transform="translate(1022.4 950.90) scale(1 1.02)"><tspan dy="1.8">−</tspan><tspan dy="-1.8">1</tspan></text>
<text transform="translate(1022.4 860.60) scale(1 1.02)"><tspan dy="1.8">−</tspan><tspan dy="-1.8">0.8</tspan></text>
<text transform="translate(1022.4 770.29) scale(1 1.02)"><tspan dy="1.8">−</tspan><tspan dy="-1.8">0.6</tspan></text>
<text transform="translate(1022.4 679.99) scale(1 1.02)"><tspan dy="1.8">−</tspan><tspan dy="-1.8">0.4</tspan></text>
<text transform="translate(1022.4 589.68) scale(1 1.02)"><tspan dy="1.8">−</tspan><tspan dy="-1.8">0.2</tspan></text>
<text transform="translate(1022.4 499.38) scale(1 1.02)">0</text>
<text transform="translate(1022.4 409.07) scale(1 1.02)">0.2</text>
<text transform="translate(1022.4 318.76) scale(1 1.02)">0.4</text>
<text transform="translate(1022.4 228.46) scale(1 1.02)">0.6</text>
<text transform="translate(1022.4 138.15) scale(1 1.02)">0.8</text>
<text transform="translate(1022.4 47.85) scale(1 1.02)">1</text>
</g>
</svg>
</body></html>
